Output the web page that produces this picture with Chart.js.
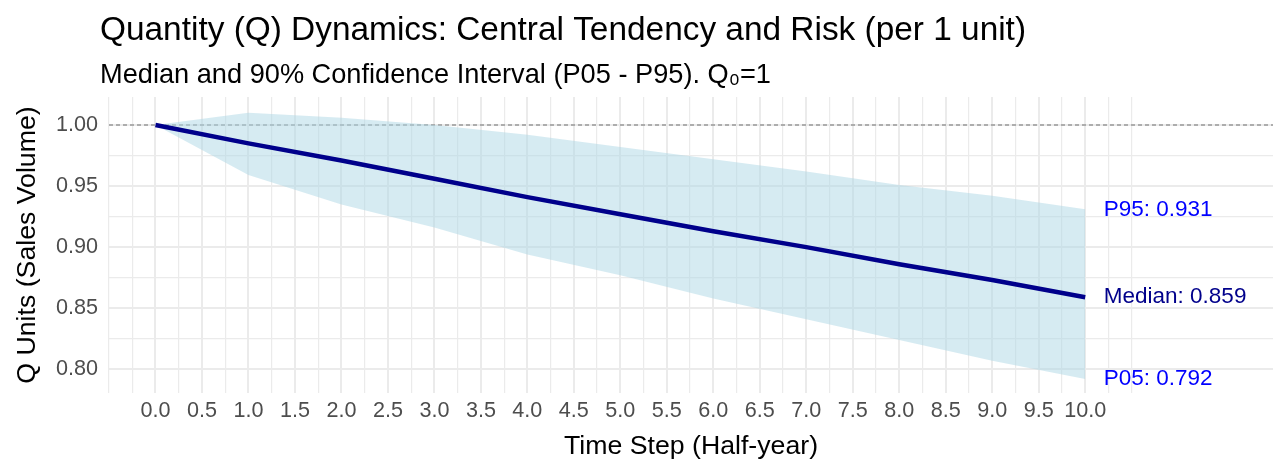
<!DOCTYPE html>
<html><head><meta charset="utf-8">
<script src="https://cdn.jsdelivr.net/npm/chart.js@4.4.1/dist/chart.umd.min.js"></script>
<style>html,body{margin:0;padding:0;background:#fff;}#wrap{width:1279px;height:464px;}</style>
</head><body><div id="wrap"><canvas id="c" width="1279" height="464"></canvas></div>
<script>
// ---- data ----
const timeSteps = [0, 1, 2, 3, 4, 5, 6, 7, 8, 9, 10];
const medianQ = [1.000, 0.985, 0.971, 0.956, 0.941, 0.927, 0.913, 0.900, 0.886, 0.873, 0.859];
const p95Q    = [1.000, 1.010, 1.006, 1.000, 0.992, 0.982, 0.972, 0.962, 0.951, 0.942, 0.931];
const p05Q    = [1.000, 0.959, 0.935, 0.916, 0.894, 0.877, 0.858, 0.841, 0.824, 0.807, 0.792];
const baselineQ = 1;
const xTickValues = [-0.5,-0.25,0,0.25,0.5,0.75,1,1.25,1.5,1.75,2,2.25,2.5,2.75,3,3.25,3.5,3.75,4,4.25,4.5,4.75,5,5.25,5.5,5.75,6,6.25,6.5,6.75,7,7.25,7.5,7.75,8,8.25,8.5,8.75,9,9.25,9.5,9.75,10,10.25,10.5];
const xMajorTicks = [0,0.5,1,1.5,2,2.5,3,3.5,4,4.5,5,5.5,6,6.5,7,7.5,8,8.5,9,9.5,10];
const xTickLabels = ['0.0','0.5','1.0','1.5','2.0','2.5','3.0','3.5','4.0','4.5','5.0','5.5','6.0','6.5','7.0','7.5','8.0','8.5','9.0','9.5','10.0'];
const yTickValues = [0.8,0.825,0.85,0.875,0.9,0.925,0.95,0.975,1.0];
const yMajorTicks = [0.8,0.85,0.9,0.95,1.0];
const yTickLabels = ['0.80','0.85','0.90','0.95','1.00'];
const titleText = 'Quantity (Q) Dynamics: Central Tendency and Risk (per 1 unit)';
const subtitleText = 'Median and 90% Confidence Interval (P05 - P95). Q\u2080=1';
const xTitle = 'Time Step (Half-year)';
const yTitle = 'Q Units (Sales Volume)';

const FONT = '"Liberation Sans", Arial, sans-serif';
Chart.defaults.font.family = FONT;

const near = (a, b) => Math.abs(a - b) < 1e-6;
const pts = arr => timeSteps.map((t, i) => ({x: t, y: arr[i]}));

const decor = {
  id: 'decor',
  beforeDatasetsDraw(chart) {
    const {ctx, chartArea: a, scales: {y}} = chart;
    const py = y.getPixelForValue(baselineQ);
    ctx.save();
    ctx.strokeStyle = '#999999';
    ctx.lineWidth = 1.5;
    ctx.setLineDash([4, 3]);
    ctx.beginPath(); ctx.moveTo(a.left, py); ctx.lineTo(a.right, py); ctx.stroke();
    ctx.restore();
  },
  afterDraw(chart) {
    const {ctx, scales: {x, y}} = chart;
    ctx.save();
    ctx.fillStyle = '#000';
    ctx.textBaseline = 'alphabetic';
    ctx.textAlign = 'left';
    ctx.font = '33.4px ' + FONT;
    ctx.fillText(titleText, 100, 40);
    ctx.font = '27.2px ' + FONT;
    ctx.fillText(subtitleText, 100, 83);
    // end labels
    const last = timeSteps.length - 1;
    const lx = x.getPixelForValue(timeSteps[last] + 0.2);
    ctx.font = '22.5px ' + FONT;
    ctx.textBaseline = 'middle';
    const items = [
      ['P95: ' + p95Q[last].toFixed(3), p95Q[last], '#0000FF'],
      ['Median: ' + medianQ[last].toFixed(3), medianQ[last], '#00008B'],
      ['P05: ' + p05Q[last].toFixed(3), p05Q[last], '#0000FF']
    ];
    for (const [t, v, c] of items) {
      ctx.fillStyle = c;
      ctx.fillText(t, lx, y.getPixelForValue(v));
    }
    ctx.restore();
  }
};

new Chart(document.getElementById('c'), {
  type: 'line',
  data: {
    datasets: [
      {label: 'Median', data: pts(medianQ), borderColor: '#00008B', borderWidth: 4.5, pointRadius: 0, fill: false, tension: 0},
      {label: 'P95', data: pts(p95Q), borderWidth: 0, borderColor: 'rgba(0,0,0,0)', pointRadius: 0, fill: '+1', backgroundColor: 'rgba(173,216,230,0.5)', tension: 0},
      {label: 'P05', data: pts(p05Q), borderWidth: 0, borderColor: 'rgba(0,0,0,0)', pointRadius: 0, fill: false, tension: 0}
    ]
  },
  options: {
    responsive: false,
    animation: false,
    layout: {padding: {left: 0, right: 6, top: 97, bottom: 1}},
    plugins: {legend: {display: false}, tooltip: {enabled: false}, title: {display: false}},
    scales: {
      x: {
        type: 'linear', min: -0.5, max: 12.02,
        afterBuildTicks: s => { s.ticks = xTickValues.map(v => ({value: v})); },
        afterFit: s => { s.height = 70; },
        ticks: {
          autoSkip: false, maxRotation: 0, minRotation: 0, padding: 5, color: '#4D4D4D', font: {size: 21.6},
          callback: v => { const i = xMajorTicks.findIndex(m => near(m, v)); return i >= 0 ? xTickLabels[i] : ''; }
        },
        grid: {color: '#EBEBEB', lineWidth: c => (xMajorTicks.some(m => near(m, c.tick.value)) ? 2 : 1.2), drawTicks: false},
        border: {display: false},
        title: {display: true, text: xTitle, color: '#000', font: {size: 26.7}, padding: 0}
      },
      y: {
        type: 'linear', min: 0.7805, max: 1.023,
        afterBuildTicks: s => { s.ticks = yTickValues.map(v => ({value: v})); },
        afterFit: s => { s.width = 109; },
        ticks: {
          autoSkip: false, padding: 11, color: '#4D4D4D', font: {size: 21.6},
          callback: v => { const i = yMajorTicks.findIndex(m => near(m, v)); return i >= 0 ? yTickLabels[i] : ''; }
        },
        grid: {color: '#EBEBEB', lineWidth: c => (yMajorTicks.some(m => near(m, c.tick.value)) ? 2 : 1.2), drawTicks: false},
        border: {display: false},
        title: {display: true, text: yTitle, color: '#000', font: {size: 26.7}, padding: {top: 12, bottom: 0}}
      }
    }
  },
  plugins: [decor]
});
</script></body></html>
